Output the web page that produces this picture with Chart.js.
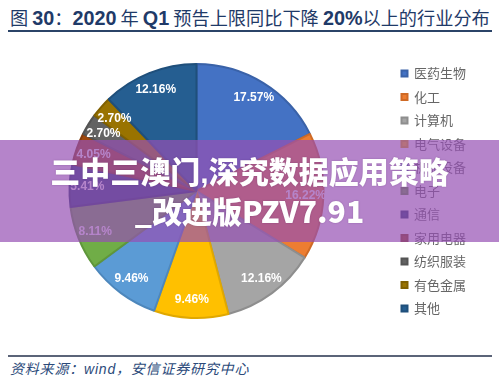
<!DOCTYPE html>
<html><head><meta charset="utf-8">
<script src="https://cdn.jsdelivr.net/npm/chart.js@4/dist/chart.umd.min.js"></script>
<style>
html,body{margin:0;padding:0;background:#fff;}
body{width:499px;height:382px;position:relative;overflow:hidden;font-family:"Noto Sans CJK SC",sans-serif;}
#title{position:absolute;left:10px;top:6px;font-size:18.2px;line-height:22px;color:#1F3A68;white-space:nowrap;}
#title b{font-family:"Liberation Sans",Arial,sans-serif;font-weight:bold;font-size:19.8px;}
#rule1{position:absolute;left:8px;top:30px;width:484px;height:2px;background:#2B4468;}
#rule2{position:absolute;left:8px;top:355px;width:484px;height:2px;background:#5B6478;}
#source{position:absolute;left:10px;top:359px;font-size:14px;line-height:18px;font-style:italic;color:#2B4A7A;white-space:nowrap;letter-spacing:0.8px;}
#source span{font-family:"Liberation Sans",Arial,sans-serif;}
#wrap{position:absolute;left:0;top:42px;width:499px;height:300px;}
#band{position:absolute;left:0;top:140px;width:499px;height:102px;background:rgba(150,80,180,0.7);z-index:5;}
.wl{position:absolute;left:0;width:499px;text-align:center;color:#fff;font-weight:900;font-size:30px;line-height:40px;white-space:nowrap;text-shadow:0 0 2px rgba(60,20,80,0.3);}
.wl span{font-family:"Liberation Sans",Arial,sans-serif;}
</style></head>
<body>
<div id="title">图 <b>30</b>：<b>2020</b> 年 <b>Q1</b> 预告上限同比下降 <b>20%</b>以上的行业分布</div>
<div id="rule1"></div>
<div id="wrap"><canvas id="c" width="499" height="300"></canvas></div>
<div id="band">
  <div class="wl" style="top:10px;">三中三澳门<span>,</span>深究数据应用策略</div>
  <div class="wl" style="top:50px;">_改进版PZV7.91</div>
</div>
<div id="rule2"></div>
<div id="source">资料来源：<span>wind</span>，安信证券研究中心</div>
<script>
const categories = ["医药生物","化工","计算机","电气设备","机械设备","电子","通信","家用电器","纺织服装","有色金属","其他"];
const shares = [17.57,16.22,12.16,9.46,9.46,8.11,5.41,4.05,2.70,2.70,12.16];
const sliceColors = ["#4472C4","#ED7D31","#A5A5A5","#FFC000","#5B9BD5","#70AD47","#264478","#9E480E","#636363","#997300","#255E91"];
const sliceBorders = ["#3A62A8","#CF6A26","#8E8E8E","#E0A800","#4D87BC","#5F963B","#1E3866","#853C0B","#545454","#806000","#1F4F7B"];

const labelPlugin = {
  id:'sliceLabels',
  afterDatasetsDraw(chart){
    const ctx = chart.ctx;
    const meta = chart.getDatasetMeta(0);
    ctx.save();
    ctx.font = 'bold 12px "Liberation Sans", Arial, sans-serif';
    ctx.fillStyle = '#ffffff';
    ctx.textAlign = 'center';
    ctx.textBaseline = 'middle';
    meta.data.forEach((arc,i)=>{
      const p = arc.getProps(['x','y','startAngle','endAngle','outerRadius'],true);
      const mid = (p.startAngle+p.endAngle)/2;
      const r = p.outerRadius*0.86;
      ctx.fillText(shares[i].toFixed(2)+'%', p.x+Math.cos(mid)*r, p.y+Math.sin(mid)*r);
    });
    ctx.restore();
  }
};

new Chart(document.getElementById('c'),{
  type:'pie',
  data:{labels:categories,datasets:[{data:shares,backgroundColor:sliceColors,borderColor:sliceBorders,borderWidth:2}]},
  options:{
    responsive:false,animation:false,
    radius:127,
    layout:{padding:{left:2,right:23,top:0,bottom:2}},
    plugins:{
      tooltip:{enabled:false},
      legend:{position:'right',align:'center',
        labels:{boxWidth:6,boxHeight:6,padding:10.5,color:'#666666',font:{family:'"Noto Sans CJK SC"',size:13}}}
    }
  },
  plugins:[labelPlugin]
});
</script>
</body></html>
